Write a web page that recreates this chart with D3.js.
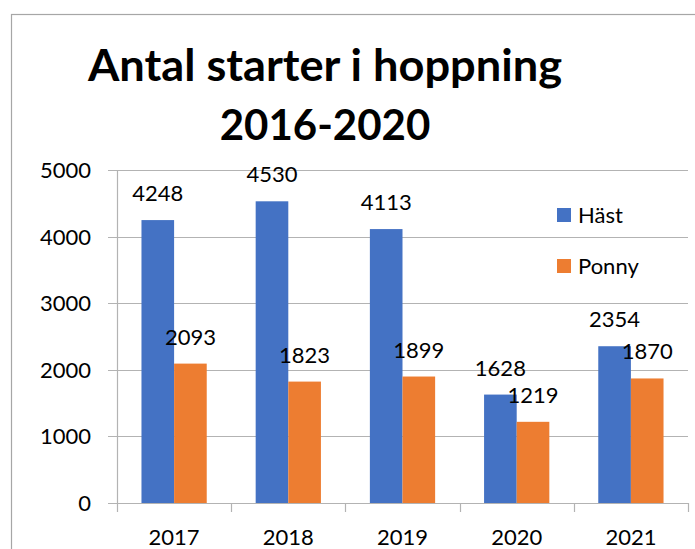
<!DOCTYPE html>
<html>
<head>
<meta charset="utf-8">
<script src="https://cdn.jsdelivr.net/npm/d3@7"></script>
<style>
  body { margin: 0; background: #fff; }
  svg { display: block; font-family: Lato, "Open Sans", sans-serif; }
</style>
</head>
<body>
<svg id="chart" width="695" height="549"></svg>
<script>
// data
const years = ['2017', '2018', '2019', '2020', '2021'];
const seriesNames = ['Häst', 'Ponny'];
const hast = [4248, 4530, 4113, 1628, 2354];
const ponny = [2093, 1823, 1899, 1219, 1870];
const yTicks = [0, 1000, 2000, 3000, 4000, 5000];
const titleLines = ['Antal starter i hoppning', '2016-2020'];
const colors = ['#4472C4', '#ED7D31'];

const svg = d3.select('#chart');
const plot = { left: 117, right: 688, top: 170, bottom: 503 };

const x = d3.scaleBand().domain(years).range([plot.left, plot.right]);
const xs = d3.scaleBand().domain(seriesNames).range([0, x.bandwidth()]).paddingOuter(0.75);
const y = d3.scaleLinear().domain([0, 5000]).range([plot.bottom, plot.top]);
const color = d3.scaleOrdinal().domain(seriesNames).range(colors);

// chart frame (cut off at right/bottom)
svg.append('rect')
  .attr('x', 11.5).attr('y', 14.5)
  .attr('width', 800).attr('height', 700)
  .attr('fill', 'none').attr('stroke', '#a6a6a6').attr('stroke-width', 1.2);

/* Title */
svg.append('g').selectAll('text')
  .data(titleLines)
  .join('text')
  .attr('x', 325)
  .attr('y', (d, i) => 81 + i * 59)
  .attr('text-anchor', 'middle')
  .attr('font-size', (d, i) => i === 0 ? 43 : 42)
  .attr('font-weight', 700)
  .attr('fill', '#000')
  .attr('textLength', (d, i) => i === 0 ? 474 : null)
  .attr('lengthAdjust', 'spacingAndGlyphs')
  .text(d => d);

/* Grid + y axis */
svg.append('g').selectAll('line')
  .data(yTicks)
  .join('line')
  .attr('x1', plot.left - 9).attr('x2', plot.right)
  .attr('y1', d => Math.round(y(d)) + 0.5).attr('y2', d => Math.round(y(d)) + 0.5)
  .attr('stroke', '#b3b3b3').attr('stroke-width', 1.2);

svg.append('line')
  .attr('x1', plot.left + 0.5).attr('x2', plot.left + 0.5)
  .attr('y1', plot.top).attr('y2', plot.bottom + 9)
  .attr('stroke', '#b3b3b3').attr('stroke-width', 1.2);

svg.append('g').selectAll('text')
  .data(yTicks)
  .join('text')
  .attr('x', 91)
  .attr('y', d => y(d))
  .attr('dy', '0.36em')
  .attr('text-anchor', 'end')
  .attr('font-size', 22)
  .text(d => d);

/* x axis ticks + labels */
svg.append('g').selectAll('line')
  .data(years.slice(1).concat(['end']))
  .join('line')
  .attr('x1', (d, i) => Math.round(plot.left + x.step() * (i + 1)) + 0.5)
  .attr('x2', (d, i) => Math.round(plot.left + x.step() * (i + 1)) + 0.5)
  .attr('y1', plot.bottom).attr('y2', plot.bottom + 9)
  .attr('stroke', '#b3b3b3').attr('stroke-width', 1.2);

svg.append('g').selectAll('text')
  .data(years)
  .join('text')
  .attr('x', d => x(d) + x.bandwidth() / 2)
  .attr('y', 545)
  .attr('text-anchor', 'middle')
  .attr('font-size', 22)
  .text(d => d);

/* Bars */
const rows = years.map((yr, i) => ({ year: yr, values: [hast[i], ponny[i]] }));

const group = svg.append('g').selectAll('g')
  .data(rows)
  .join('g')
  .attr('transform', d => `translate(${x(d.year)},0)`);

group.selectAll('rect')
  .data(d => d.values.map((v, k) => ({ key: seriesNames[k], value: v })))
  .join('rect')
  .attr('x', d => xs(d.key))
  .attr('y', d => y(d.value))
  .attr('width', xs.bandwidth())
  .attr('height', d => y(0) - y(d.value))
  .attr('fill', d => color(d.key));

group.selectAll('text')
  .data(d => d.values.map((v, k) => ({ key: seriesNames[k], value: v })))
  .join('text')
  .attr('x', d => xs(d.key) + xs.bandwidth() / 2)
  .attr('y', d => y(d.value) - 19)
  .attr('text-anchor', 'middle')
  .attr('font-size', 22)
  .attr('fill', '#000')
  .text(d => d.value);

/* Legend */
const legend = svg.append('g').selectAll('g')
  .data(seriesNames)
  .join('g')
  .attr('transform', (d, i) => `translate(557,${208 + i * 51})`);

legend.append('rect')
  .attr('width', 14).attr('height', 14)
  .attr('fill', d => color(d));

legend.append('text')
  .attr('x', 21).attr('y', 7)
  .attr('dy', '0.36em')
  .attr('font-size', 22)
  .text(d => d);
</script>
</body>
</html>
